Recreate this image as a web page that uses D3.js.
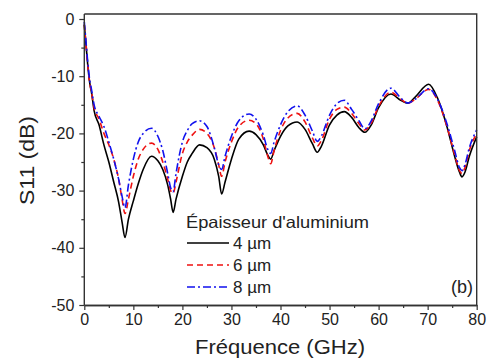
<!DOCTYPE html>
<html><head><meta charset="utf-8">
<script src="https://cdn.jsdelivr.net/npm/d3@7"></script>
<style>body{margin:0;background:#fff}svg{display:block}text{font-family:"Liberation Sans",Arial,sans-serif;fill:#222}</style>
</head><body><svg id="c" width="488" height="360"></svg>
<script>
const freq = [0,0.3,0.7,1,1.5,2,3,4,5,6,7,7.7,8.3,9,10,11,12,13.7,15,16,17,17.6,18.1,18.7,20,21,22,23.5,25,26.5,27.4,28,28.7,30,31.5,33.6,35,36.5,37.4,38,38.7,40,41.5,43.4,45,46.5,47.5,48.3,50,51.5,53,54.5,56,57.2,58.5,60,62.5,64.5,66,67.5,70.2,72,74,75.5,76.5,77,77.6,78.5,80];
const s11_4um = [-1,-4,-8,-10.5,-13,-16,-18.5,-22,-25,-28.5,-32,-35.5,-38.2,-35,-31.8,-28.8,-26.3,-24,-24.8,-26.3,-29,-31.5,-33.8,-31.5,-27.5,-25,-23.5,-22,-22.5,-24.5,-27.5,-30.6,-28.5,-24.5,-21,-19.6,-20.2,-22,-23.8,-24.5,-23,-20.5,-18.7,-18,-19.3,-21.8,-23.3,-22.3,-18.5,-16.8,-16.2,-17.2,-19,-19.8,-18.5,-15.5,-13.1,-14.2,-14.7,-13.6,-11.4,-13.8,-19,-24,-26.8,-27.6,-26.8,-24,-20.6];
const s11_6um = [-1,-4,-8,-10.5,-13,-15.5,-17.5,-20,-22,-24.5,-28,-31.5,-34,-31.5,-27.5,-24.5,-22.8,-21.7,-22.8,-25,-28,-30,-30.5,-28.5,-23.5,-21.5,-20.3,-19.3,-20,-22.5,-25.5,-27.5,-25,-21.5,-18.8,-17.7,-18.3,-21,-24,-25.3,-23,-19.5,-17.3,-16.5,-18,-20.8,-22.2,-21.3,-17.5,-15.8,-15.4,-16.5,-18.3,-19.4,-18.2,-15.3,-12.8,-14,-14.7,-14,-12.3,-14.2,-19,-23.7,-26.5,-27,-26,-23,-20];
const s11_8um = [-0.5,-3.5,-7.5,-10,-12.5,-15,-17,-18.8,-21.5,-24.5,-28,-31,-33,-29,-24.5,-21.5,-20,-19.1,-20.5,-23,-27,-29.5,-30.2,-27,-21.5,-19.5,-18.3,-17.8,-18.8,-22.5,-25.5,-26.3,-24,-20.5,-17.8,-16.6,-17.5,-20.3,-22.8,-23.5,-21.5,-18.5,-16.2,-15.2,-16.8,-19.6,-21.4,-20.5,-16.8,-14.8,-14.2,-15.8,-17.8,-19.2,-17.8,-14.8,-12.1,-13.8,-14.7,-14,-12.2,-14,-18.5,-23,-26,-26.5,-25.5,-22.5,-19.4];
const xTicks = [0,10,20,30,40,50,60,70,80];
const xMinor = [5,15,25,35,45,55,65,75];
const yTicks = [-50,-40,-30,-20,-10,0];
const yMinor = [-45,-35,-25,-15,-5];
const seriesNames = ["4 µm","6 µm","8 µm"];
const seriesColors = ["#000000","#ee1111","#1111ee"];
const seriesDash = ["none","6,4","8,3,2,3"];

const svg = d3.select("#c");
const x = d3.scaleLinear().domain([0,80]).range([84.3,476.7]);
const y = d3.scaleLinear().domain([-50,0]).range([305,19]);
const yTop = y(0.87);

const g = svg.append("g");
const line = d3.line().x(d=>x(d[0])).y(d=>y(d[1])).curve(d3.curveMonotoneX);
[s11_4um,s11_6um,s11_8um].forEach((s,i)=>{
  g.append("path").datum(freq.map((f,j)=>[f,s[j]]))
   .attr("d",line).attr("fill","none").attr("stroke",seriesColors[i])
   .attr("stroke-width",1.6).attr("stroke-dasharray",seriesDash[i]);
});
svg.append("path").attr("d",`M${x(0)},${yTop}H${x(80)}V${y(-50)}`).attr("fill","none").attr("stroke","#333").attr("stroke-width",1.4);

function styleAxis(sel){ sel.select(".domain").attr("stroke","#333").attr("stroke-width",1.4);
  sel.selectAll(".tick line").attr("stroke","#333").attr("stroke-width",1.2); }
const xAx = svg.append("g").attr("transform",`translate(0,${y(-50)})`)
  .call(d3.axisBottom(x).tickValues(xTicks).tickSize(5).tickPadding(4).tickSizeOuter(0));
styleAxis(xAx);
xAx.selectAll("text").attr("font-size",16).attr("fill","#222");
const xAxm = svg.append("g").attr("transform",`translate(0,${y(-50)})`)
  .call(d3.axisBottom(x).tickValues(xMinor).tickSize(3).tickFormat("").tickSizeOuter(0));
styleAxis(xAxm);
const yAx = svg.append("g").attr("transform",`translate(${x(0)},0)`)
  .call(d3.axisLeft(y).tickValues(yTicks).tickSize(5).tickPadding(5).tickSizeOuter(0));
styleAxis(yAx);
yAx.select(".domain").attr("d",`M0,${y(-50)}V${yTop}`);
yAx.selectAll("text").attr("font-size",16).attr("fill","#222").text(d=>d<0?"-"+Math.abs(d):d);
const yAxm = svg.append("g").attr("transform",`translate(${x(0)},0)`)
  .call(d3.axisLeft(y).tickValues(yMinor).tickSize(3).tickFormat("").tickSizeOuter(0));
styleAxis(yAxm);
yAxm.select(".domain").remove();

svg.append("text").attr("x",195).attr("y",354).attr("font-size",20)
  .attr("textLength",170).attr("lengthAdjust","spacingAndGlyphs").text("Fréquence (GHz)");
svg.append("text").attr("transform","translate(34,205) rotate(-90)").attr("font-size",20)
  .attr("textLength",89).attr("lengthAdjust","spacingAndGlyphs").text("S11 (dB)");
svg.append("text").attr("x",473).attr("y",293).attr("text-anchor","end").attr("font-size",18).text("(b)");

const lg = svg.append("g");
lg.append("text").attr("x",186).attr("y",228).attr("font-size",16.5)
  .attr("textLength",183).attr("lengthAdjust","spacingAndGlyphs").text("Épaisseur d'aluminium");
seriesNames.forEach((n,i)=>{
  const yy = 243 + i*22;
  lg.append("line").attr("x1",187).attr("x2",229).attr("y1",yy).attr("y2",yy)
    .attr("stroke",seriesColors[i]).attr("stroke-width",1.6).attr("stroke-dasharray",seriesDash[i]);
  lg.append("text").attr("x",233).attr("y",yy+6).attr("font-size",17).text(n);
});
</script></body></html>
